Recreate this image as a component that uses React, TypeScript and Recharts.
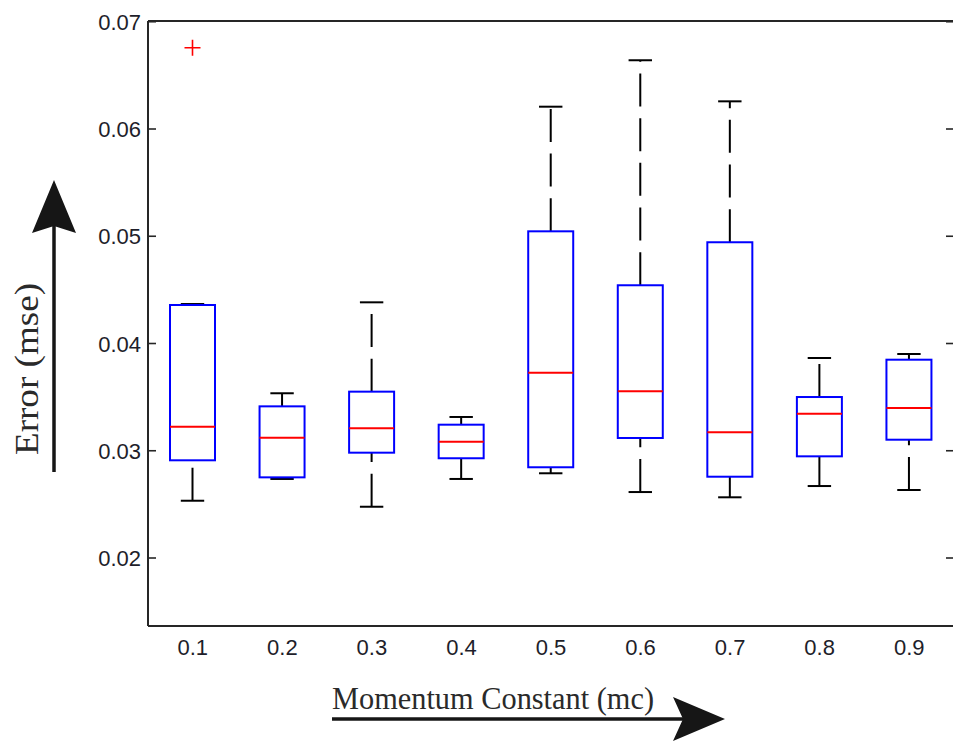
import { Bar, ComposedChart, XAxis, YAxis } from 'recharts';

// momentum constant groups and their error (mse) box statistics
const categories = ['0.1', '0.2', '0.3', '0.4', '0.5', '0.6', '0.7', '0.8', '0.9'];
const whiskerLow = [0.02534, 0.02737, 0.02478, 0.02737, 0.0279, 0.02615, 0.02566, 0.02671, 0.02634];
const quartile1 = [0.02911, 0.02752, 0.02982, 0.0293, 0.02846, 0.03119, 0.02758, 0.02948, 0.03103];
const medians = [0.03224, 0.03122, 0.03209, 0.03084, 0.03728, 0.03554, 0.03172, 0.03345, 0.03399];
const quartile3 = [0.04359, 0.03414, 0.03551, 0.03243, 0.05046, 0.04543, 0.04944, 0.03501, 0.03849];
const whiskerHigh = [0.04368, 0.03536, 0.04384, 0.03315, 0.06208, 0.06641, 0.06258, 0.03865, 0.03902];
const outliers: number[][] = [[0.06758], [], [], [], [], [], [], [], []];
const yTicks = [0.02, 0.03, 0.04, 0.05, 0.06, 0.07];

const rows = categories.map((mc, i) => ({
  mc,
  lo: whiskerLow[i],
  q1: quartile1[i],
  med: medians[i],
  q3: quartile3[i],
  hi: whiskerHigh[i],
  out: outliers[i],
}));

const AXIS = '#262626';
const SANS = '"Liberation Sans", Arial, sans-serif';
const SERIF = '"Liberation Serif", "Times New Roman", serif';

// the bar spans the whisker range; everything else is placed inside that span
function BoxShape(props: any) {
  const { x, y, width, height, payload } = props;
  const top = Math.min(y, y + height);
  const span = Math.abs(height);
  const { lo, hi, q1, q3, med, out } = payload;
  const py = (v: number) => top + (span * (hi - v)) / (hi - lo);
  const cx = x + width / 2;
  const cap = width * 0.26;
  return (
    <g>
      <path d={`M${cx},${py(q3)}V${py(hi)}`} stroke="#000" strokeWidth={2} strokeDasharray="33 11.7" fill="none" />
      <path d={`M${cx},${py(lo)}V${py(q1)}`} stroke="#000" strokeWidth={2} strokeDasharray="33 11.7" fill="none" />
      <line x1={cx - cap} x2={cx + cap} y1={py(hi)} y2={py(hi)} stroke="#000" strokeWidth={2} />
      <line x1={cx - cap} x2={cx + cap} y1={py(lo)} y2={py(lo)} stroke="#000" strokeWidth={2} />
      <rect x={x} y={py(q3)} width={width} height={py(q1) - py(q3)} fill="#fff" stroke="#0000ff" strokeWidth={2} />
      <line x1={x} x2={x + width} y1={py(med)} y2={py(med)} stroke="#ff0000" strokeWidth={2} />
      {out.map((v: number, k: number) => (
        <path
          key={k}
          d={`M${cx - 8},${py(v)}H${cx + 8}M${cx},${py(v) - 8}V${py(v) + 8}`}
          stroke="#ff0000"
          strokeWidth={1.6}
          fill="none"
        />
      ))}
    </g>
  );
}

function LeftTick({ x, y, payload }: any) {
  return (
    <g>
      <line x1={x} x2={x + 8} y1={y} y2={y} stroke={AXIS} strokeWidth={1.6} />
      <text x={x - 7} y={y + 8} textAnchor="end" fontSize={22} fontFamily={SANS} fill="#1e1e2a">
        {Number(payload.value).toFixed(2)}
      </text>
    </g>
  );
}

function RightTick({ x, y }: any) {
  return <line x1={x - 8} x2={x} y1={y} y2={y} stroke={AXIS} strokeWidth={1.6} />;
}

function BottomTick({ x, y, payload }: any) {
  return (
    <text x={x} y={y + 29} textAnchor="middle" fontSize={22} fontFamily={SANS} fill="#1e1e2a">
      {payload.value}
    </text>
  );
}

export default function App() {
  return (
    <div style={{ position: 'absolute', left: 0, top: 0, width: 953, height: 742, overflow: 'hidden', background: '#fff' }}>
      <ComposedChart width={960} height={742} data={rows} margin={{ top: 0, right: 0, bottom: 0, left: 0 }}>
        <XAxis
          dataKey="mc"
          height={116}
          tickSize={0}
          tickMargin={0}
          tick={<BottomTick />}
          tickLine={false}
          axisLine={{ stroke: AXIS, strokeWidth: 2 }}
        />
        <XAxis
          xAxisId="top"
          dataKey="mc"
          orientation="top"
          height={21}
          tick={false}
          tickLine={false}
          axisLine={{ stroke: AXIS, strokeWidth: 2 }}
        />
        <YAxis
          yAxisId="l"
          type="number"
          width={148}
          domain={[0.01366, 0.07007]}
          allowDataOverflow
          ticks={yTicks}
          tickSize={0}
          tickMargin={0}
          tickLine={false}
          tick={<LeftTick />}
          axisLine={{ stroke: AXIS, strokeWidth: 2 }}
        />
        <YAxis
          yAxisId="r"
          orientation="right"
          type="number"
          width={6}
          domain={[0.01366, 0.07007]}
          allowDataOverflow
          ticks={yTicks}
          tickSize={0}
          tickMargin={0}
          tickLine={false}
          tick={<RightTick />}
          axisLine={{ stroke: AXIS, strokeWidth: 2 }}
        />
        <Bar
          yAxisId="l"
          dataKey={(d: any) => [d.lo, d.hi]}
          barSize={45}
          shape={<BoxShape />}
          isAnimationActive={false}
        />
      </ComposedChart>

      {/* axis titles with their arrows */}
      <svg width={953} height={742} style={{ position: 'absolute', left: 0, top: 0, pointerEvents: 'none' }}>
        <line x1={54} x2={54} y1={472} y2={226} stroke="#161616" strokeWidth={3.5} />
        <polygon points="54,180 32,233 54,226 76,233" fill="#161616" />
        <text
          x={38}
          y={369}
          transform="rotate(-90 38 369)"
          textAnchor="middle"
          fontSize={34}
          fontFamily={SERIF}
          fill="#2a2a2a"
          textLength={172}
          lengthAdjust="spacingAndGlyphs"
        >
          Error (mse)
        </text>
        <text
          x={332}
          y={709}
          fontSize={31}
          fontFamily={SERIF}
          fill="#2a2a2a"
          textLength={322}
          lengthAdjust="spacingAndGlyphs"
        >
          Momentum Constant (mc)
        </text>
        <line x1={332} x2={684} y1={719} y2={719} stroke="#161616" strokeWidth={3.5} />
        <polygon points="725,719 673,697 683,719 673,741" fill="#161616" />
      </svg>
    </div>
  );
}
